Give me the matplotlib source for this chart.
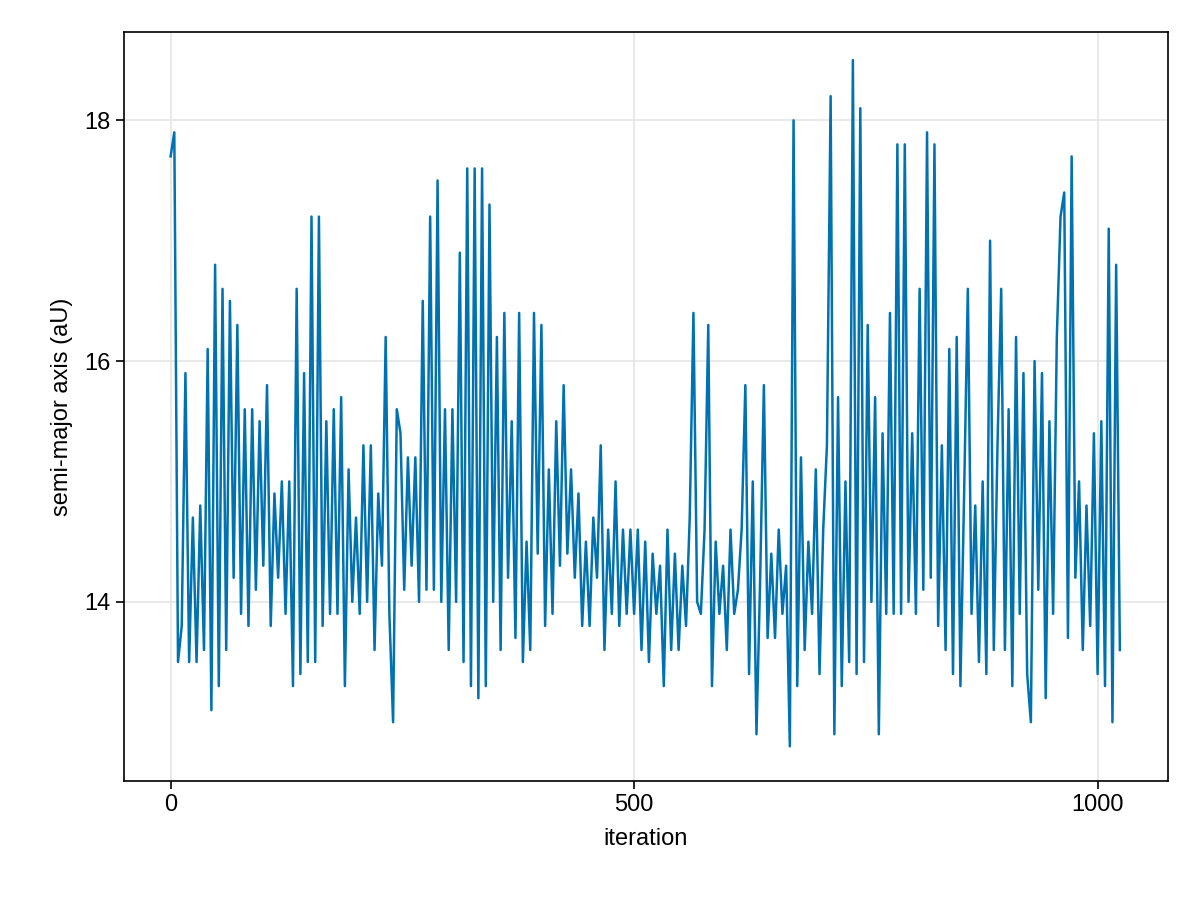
import numpy as np
import matplotlib
matplotlib.use("Agg")
import matplotlib.pyplot as plt

plt.rcParams["font.family"] = ["Liberation Sans", "DejaVu Sans"]

# semi-major axis values, one every 4 iterations
semi_major = [
    17.7, 17.9, 13.5, 13.8, 15.9, 13.5, 14.7, 13.5, 14.8, 13.6, 16.1, 13.1, 16.8, 13.3, 16.6, 13.6,
    16.5, 14.2, 16.3, 13.9, 15.6, 13.8, 15.6, 14.1, 15.5, 14.3, 15.8, 13.8, 14.9, 14.2, 15.0, 13.9,
    15.0, 13.3, 16.6, 13.4, 15.9, 13.5, 17.2, 13.5, 17.2, 13.8, 15.5, 13.9, 15.6, 13.9, 15.7, 13.3,
    15.1, 14.0, 14.7, 13.9, 15.3, 14.0, 15.3, 13.6, 14.9, 14.3, 16.2, 13.9, 13.0, 15.6, 15.4, 14.1,
    15.2, 14.3, 15.2, 14.0, 16.5, 14.1, 17.2, 14.1, 17.5, 14.0, 15.6, 13.6, 15.6, 14.0, 16.9, 13.5,
    17.6, 13.3, 17.6, 13.2, 17.6, 13.3, 17.3, 14.0, 16.2, 13.6, 16.4, 14.2, 15.5, 13.7, 16.4, 13.5,
    14.5, 13.6, 16.4, 14.4, 16.3, 13.8, 15.1, 13.9, 15.5, 14.3, 15.8, 14.4, 15.1, 14.2, 14.9, 13.8,
    14.5, 13.8, 14.7, 14.2, 15.3, 13.6, 14.6, 13.9, 15.0, 13.8, 14.6, 13.9, 14.6, 13.9, 14.6, 13.6,
    14.5, 13.5, 14.4, 13.9, 14.3, 13.3, 14.6, 13.6, 14.4, 13.6, 14.3, 13.8, 14.7, 16.4, 14.0, 13.9,
    14.6, 16.3, 13.3, 14.5, 13.9, 14.3, 13.6, 14.6, 13.9, 14.1, 14.6, 15.8, 13.4, 15.0, 12.9, 14.2,
    15.8, 13.7, 14.4, 13.7, 14.6, 13.9, 14.3, 12.8, 18.0, 13.3, 15.2, 13.6, 14.5, 13.9, 15.1, 13.4,
    14.6, 15.3, 18.2, 12.9, 15.7, 13.3, 15.0, 13.5, 18.5, 13.4, 18.1, 13.5, 16.3, 14.0, 15.7, 12.9,
    15.4, 13.9, 16.4, 13.9, 17.8, 13.9, 17.8, 14.0, 15.4, 13.9, 16.6, 14.1, 17.9, 14.2, 17.8, 13.8,
    15.3, 13.6, 16.1, 13.4, 16.2, 13.3, 14.9, 16.6, 13.9, 14.8, 13.5, 15.0, 13.4, 17.0, 13.6, 15.3,
    16.6, 13.6, 15.6, 13.3, 16.2, 13.9, 15.9, 13.4, 13.0, 16.0, 14.1, 15.9, 13.2, 15.5, 13.9, 16.2,
    17.2, 17.4, 13.7, 17.7, 14.2, 15.0, 13.6, 14.8, 13.8, 15.4, 13.4, 15.5, 13.3, 17.1, 13.0, 16.8,
    13.6,
]
iterations = np.arange(len(semi_major)) * 4

fig = plt.figure(figsize=(12, 9), dpi=100)
ax = fig.add_axes([0.103, 0.132, 0.870, 0.832])
ax.plot(iterations, semi_major, color="#0072B2", linewidth=1.8)

ax.set_xlim(-50.7, 1075.5)
ax.set_ylim(12.51, 18.73)
ax.set_xticks([0, 500, 1000])
ax.set_yticks([14, 16, 18])
ax.grid(True, color="#e5e5e5", linewidth=1.2)
ax.set_axisbelow(True)
ax.tick_params(labelsize=17, length=6, width=1.2, direction="out")
for s in ax.spines.values():
    s.set_linewidth(1.2)
ax.set_xlabel("iteration", fontsize=17, labelpad=8)
ax.set_ylabel("semi-major axis (aU)", fontsize=17, labelpad=8)

fig.savefig("out.png", dpi=100)
